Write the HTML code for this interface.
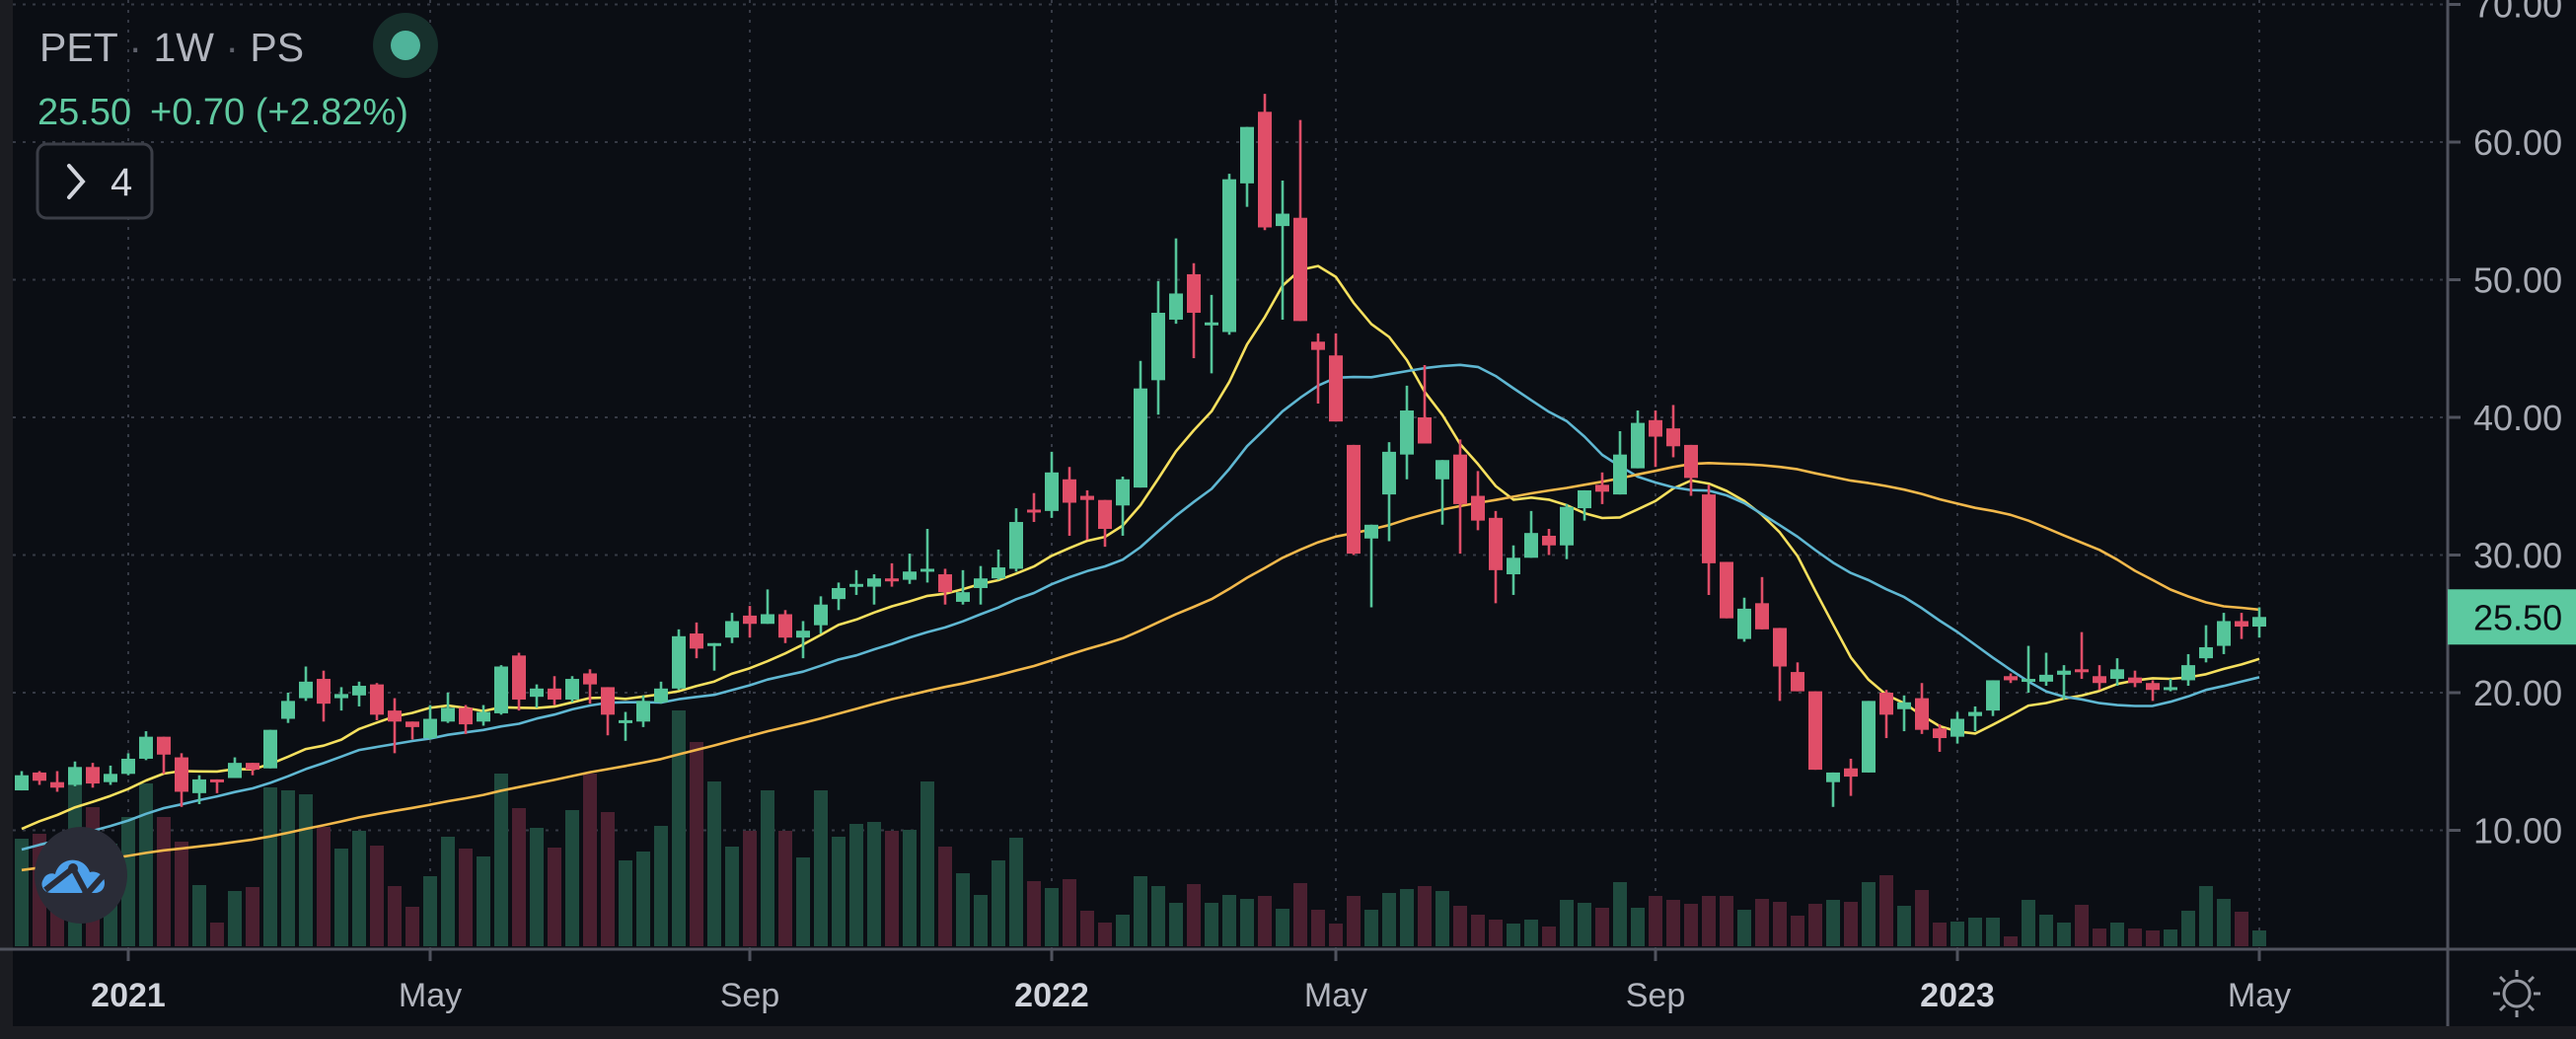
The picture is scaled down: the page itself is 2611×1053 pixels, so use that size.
<!DOCTYPE html>
<html><head><meta charset="utf-8"><style>
html,body{margin:0;padding:0;background:#0b0e14;}
svg{display:block;font-family:"Liberation Sans","DejaVu Sans",sans-serif;}
</style></head><body>
<svg id="chart" width="2611" height="1053" viewBox="0 0 2611 1053" xmlns="http://www.w3.org/2000/svg">
<rect x="0" y="0" width="2611" height="1053" fill="#0b0e14"/>
<rect x="0" y="0" width="13" height="1053" fill="#1b1c21"/>
<rect x="0" y="1040" width="2611" height="13" fill="#1b1c21"/>
<g id="grid"></g>
<g id="volume"></g>
<g id="ma"></g>
<g id="candles"></g>
<g id="axes"></g>

<g>
<text x="40" y="62" font-size="41" fill="#b2b5be">PET<tspan fill="#5d606b"> · </tspan>1W<tspan fill="#5d606b"> · </tspan>PS</text>
<circle cx="411" cy="46" r="33" fill="#17302c"/>
<circle cx="411" cy="46" r="15" fill="#4fb39a"/>
<text x="38" y="126" font-size="38" fill="#5fc9a0">25.50</text>
<text x="152" y="126" font-size="38" fill="#5fc9a0">+0.70 (+2.82%)</text>
<rect x="38" y="146" width="116" height="75" rx="9" fill="#0b0e14" stroke="#3b3e47" stroke-width="3"/>
<path d="M70 168 L84 184 L70 200" fill="none" stroke="#d1d4dc" stroke-width="4" stroke-linecap="round"/>
<text x="112" y="198" font-size="40" fill="#d1d4dc">4</text>
</g>

<g>
<ellipse cx="82" cy="887" rx="47" ry="49" fill="#2a2c37"/>
<path d="M52 905 C44 905 40 897 44 891 C46 886 52 884 56 886 C58 876 68 870 77 872 C84 873 89 878 91 884 C98 882 106 887 106 895 C106 901 102 905 96 905 Z" fill="#4da0ea"/>
<path d="M46 902 L74 880 L88 906 L104 888" fill="none" stroke="#2a2c37" stroke-width="6" stroke-linejoin="round"/>
<circle cx="74" cy="880" r="5" fill="#2a2c37"/><circle cx="88" cy="906" r="5" fill="#2a2c37"/>
</g>

<g transform="translate(2551,1007)" stroke="#9598a1" stroke-width="3" fill="none">
<circle r="13"/>
<line x1="0" y1="-17" x2="0" y2="-24"/><line x1="0" y1="17" x2="0" y2="24"/>
<line x1="-17" y1="0" x2="-24" y2="0"/><line x1="17" y1="0" x2="24" y2="0"/>
<line x1="12" y1="12" x2="17" y2="17"/><line x1="-12" y1="-12" x2="-17" y2="-17"/>
<line x1="12" y1="-12" x2="17" y2="-17"/><line x1="-12" y1="12" x2="-17" y2="17"/>
</g>
</svg>
<script>
// ---- data ----
const opens  = [12.9,14.2,13.5,13.3,14.6,13.5,14.1,15.2,16.8,15.3,12.7,13.7,13.8,14.9,14.5,18.1,19.6,21.0,19.6,19.8,20.6,18.7,17.9,16.7,17.9,18.9,17.9,18.5,22.7,19.7,20.3,19.5,21.4,20.4,17.9,17.9,19.3,20.3,24.3,23.4,24.0,25.6,25.0,25.7,24.0,24.9,26.8,27.7,27.7,28.3,28.2,28.9,28.6,26.6,27.6,28.3,29.0,33.3,33.2,35.5,34.3,34.0,33.6,34.9,42.7,47.1,50.4,46.8,46.2,57.0,62.2,53.9,54.5,45.5,44.5,38.0,31.2,34.4,37.3,40.0,35.5,37.3,34.3,32.7,28.6,29.8,31.4,30.7,33.4,35.1,34.4,36.3,39.8,39.2,38.0,34.4,29.5,23.9,26.5,24.7,21.5,20.1,13.5,14.5,14.2,20.0,18.8,19.6,17.4,16.8,18.3,18.7,21.2,20.8,20.8,21.3,21.7,21.2,21.0,21.1,20.7,20.3,20.9,22.5,23.4,25.2,24.8];
const highs  = [14.3,14.3,14.3,15.0,14.9,14.7,15.6,17.2,16.8,15.6,14.0,13.7,15.3,14.9,17.3,20.0,21.9,21.6,20.4,20.8,20.7,19.6,17.9,19.1,20.0,19.1,19.1,22.0,22.9,20.6,21.2,21.2,21.7,20.4,18.6,19.8,20.8,24.6,25.1,23.6,25.8,26.3,27.5,26.0,25.2,27.0,28.0,28.9,28.6,29.4,30.1,31.9,29.0,28.9,29.2,30.4,33.4,34.5,37.5,36.4,34.7,34.0,35.7,44.1,49.9,53.0,51.2,48.9,57.7,61.1,63.5,57.2,61.6,46.1,46.1,38.0,32.2,38.2,42.3,43.8,36.9,38.4,36.1,33.2,30.7,33.2,31.9,33.7,34.7,36.0,39.0,40.5,40.5,40.9,38.0,35.1,29.5,26.9,28.4,24.7,22.2,20.1,14.2,15.2,19.4,20.2,19.8,20.7,17.7,18.6,19.0,20.9,21.4,23.4,22.9,22.0,24.4,22.0,22.5,21.6,20.9,21.0,22.8,24.9,25.8,25.8,26.2];
const lows   = [12.9,13.3,12.8,13.2,13.1,13.3,14.0,15.1,14.1,11.7,11.9,12.7,13.8,14.0,14.5,17.8,19.4,17.9,18.7,19.0,18.0,15.6,16.6,16.6,17.8,17.0,17.6,18.4,18.7,18.9,19.1,19.3,19.2,16.9,16.5,17.5,19.2,20.2,22.5,21.6,23.6,24.0,25.0,23.6,22.5,24.3,26.0,27.1,26.4,27.7,27.9,28.0,26.4,26.4,26.4,28.2,28.8,32.4,32.7,31.4,31.1,30.6,31.4,34.9,40.2,46.8,44.3,43.2,46.0,55.3,53.6,47.1,47.0,41.0,39.7,30.0,26.2,31.0,35.5,38.1,32.2,30.1,31.8,26.5,27.1,29.8,30.0,29.7,32.5,33.7,34.4,36.3,36.4,37.1,34.3,27.1,25.4,23.7,24.6,19.4,20.1,14.4,11.7,12.5,14.2,16.7,17.2,17.0,15.7,16.3,17.2,18.3,20.7,20.0,20.5,19.5,21.0,20.2,20.5,20.4,19.4,20.1,20.5,22.2,22.8,23.9,24.0];
const closes = [14.0,13.6,13.1,14.6,13.4,14.1,15.2,16.8,15.5,12.8,13.7,13.5,14.9,14.4,17.3,19.4,20.8,19.2,19.9,20.5,18.4,17.9,17.5,18.1,18.9,17.7,18.6,21.9,19.5,20.3,19.5,21.0,20.6,18.4,18.0,19.4,20.3,24.1,23.2,23.6,25.2,25.0,25.7,24.0,24.5,26.4,27.6,27.9,28.3,28.1,28.8,29.0,27.3,27.3,28.3,29.1,32.4,33.1,36.0,33.8,34.0,31.9,35.5,42.1,47.6,49.0,47.6,46.9,57.3,61.1,53.8,54.8,47.0,44.9,39.7,30.1,32.2,37.5,40.5,38.1,36.9,33.7,32.5,28.9,29.8,31.6,30.7,33.5,34.7,34.6,37.3,39.6,38.6,37.9,35.6,29.4,25.4,26.1,24.6,21.9,20.1,14.4,14.2,13.9,19.4,18.4,19.3,17.3,16.7,18.1,18.6,20.9,20.9,21.0,21.3,21.6,21.5,20.7,21.7,20.7,20.2,20.4,22.0,23.3,25.2,24.8,25.5];
const volumes = [109,114,87,166,141,104,131,165,131,106,62,24,56,60,161,158,154,121,99,117,102,61,40,71,111,99,91,175,140,120,100,138,175,136,87,96,122,239,207,167,101,117,158,117,90,158,111,124,126,117,118,167,101,74,52,87,110,66,59,68,36,24,32,71,61,44,63,44,52,48,51,38,64,37,23,51,37,54,58,61,56,41,32,27,23,27,20,47,44,39,65,39,51,47,43,51,51,37,48,45,31,43,47,45,65,72,41,57,24,25,29,29,10,47,32,24,42,18,24,18,16,17,36,61,48,35,16];
// estimated weekly closes before the first visible bar (history used by the moving averages)
const priorCloses = [5.2,5.4,5.0,5.6,5.8,5.5,6.0,6.3,5.9,6.1,6.4,6.0,5.7,5.9,6.2,6.5,6.3,6.0,5.8,6.1,6.4,6.6,6.3,6.5,6.8,6.6,6.4,6.7,6.9,6.8,6.7,6.9,7.0,6.8,7.1,7.3,7.0,7.2,7.4,7.6,8.0,8.6,9.0,9.4,9.8,10.2,10.6,10.5,10.9];
const maPeriods = [10,20,50];
const priceTicks = [10,20,30,40,50,60,70];
const timeTickIndex = [6,23,41,58,74,92,109,126];
const timeTickLabels = ["2021","May","Sep","2022","May","Sep","2023","May"];
const lastPrice = 25.50;

// ---- scales ----
const X0 = 22, STEP = 18.0;
const PLOT_R = 2481, VOL_BASE = 959, AXIS_Y = 962;
function xScale(i){ return X0 + i*STEP; }
function yScale(p){ return 702 - (p-20)*13.95; }
function vScale(v){ return v*1.0; }

const NS = "http://www.w3.org/2000/svg";
function mk(tag, attrs, parent){ const e=document.createElementNS(NS,tag); for(const k in attrs) e.setAttribute(k,attrs[k]); parent.appendChild(e); return e; }

const grid = document.getElementById('grid');
priceTicks.forEach(p=>{
  const l = mk('line',{x1:13,x2:PLOT_R,y1:yScale(p),y2:yScale(p),stroke:'#363a45','stroke-width':2,'stroke-dasharray':'3 7'},grid);
  
  
});
timeTickIndex.forEach(i=>{
  const l = mk('line',{x1:xScale(i),x2:xScale(i),y1:0,y2:AXIS_Y,stroke:'#363a45','stroke-width':2,'stroke-dasharray':'3 7'},grid);
  
  
});

const vg = document.getElementById('volume');
volumes.forEach((v,i)=>{
  const up = closes[i] >= opens[i];
  const h = vScale(v);
  const r = mk('rect',{x:xScale(i)-7,y:VOL_BASE-h,width:14,height:h,fill: up?'#1f4a3e':'#4a2030'},vg);
  
  
});

const all = priorCloses.concat(closes);
const off = priorCloses.length;
const maColors = ['#f6e05e','#5fb7d2','#f2b84b'];
const mg = document.getElementById('ma');
maPeriods.forEach((per,k)=>{
  let pts=[];
  for(let i=0;i<closes.length;i++){
    const j=i+off; let s=0,n=0;
    for(let q=Math.max(0,j-per+1);q<=j;q++){ s+=all[q]; n++; }
    pts.push(xScale(i).toFixed(1)+','+yScale(s/n).toFixed(1));
  }
  const pl = mk('polyline',{points:pts.join(' '),fill:'none',stroke:maColors[k],'stroke-width':2.6,'stroke-linejoin':'round'},mg);
  
  
});

const cg = document.getElementById('candles');
closes.forEach((c,i)=>{
  const o=opens[i], up=c>=o, col=up?'#55c59a':'#e04e68';
  const x=xScale(i);
  const w = mk('line',{x1:x,x2:x,y1:yScale(highs[i]),y2:yScale(lows[i]),stroke:col,'stroke-width':2.6},cg);
  
  
  const top=yScale(Math.max(o,c)), bot=yScale(Math.min(o,c));
  const b = mk('rect',{x:x-7,y:top,width:14,height:Math.max(3,bot-top),fill:col},cg);
  
  
});

const ax = document.getElementById('axes');
const a1 = mk('line',{x1:PLOT_R,x2:PLOT_R,y1:0,y2:1040,stroke:'#50535e','stroke-width':3},ax);


const a2 = mk('line',{x1:0,x2:2611,y1:AXIS_Y,y2:AXIS_Y,stroke:'#50535e','stroke-width':3},ax);


priceTicks.forEach(p=>{
  const t = mk('line',{x1:PLOT_R,x2:PLOT_R+13,y1:yScale(p),y2:yScale(p),stroke:'#50535e','stroke-width':3},ax);
  
  
  const tx = mk('text',{x:2507,y:yScale(p)+13,'font-size':36,fill:'#a9acb5'},ax);
  
  
  tx.textContent=p.toFixed(2);
});
timeTickIndex.forEach((i,k)=>{
  const t = mk('line',{x1:xScale(i),x2:xScale(i),y1:AXIS_Y,y2:AXIS_Y+12,stroke:'#50535e','stroke-width':3},ax);
  
  
  const isYear = /^\d+$/.test(timeTickLabels[k]);
  const tx = mk('text',{x:xScale(i),y:1020,'font-size':34,'text-anchor':'middle',fill:isYear?'#d1d4dc':'#b2b5be','font-weight':isYear?'bold':'normal'},ax);
  
  
  tx.textContent=timeTickLabels[k];
});
const ty=yScale(lastPrice);
const tag = mk('rect',{x:PLOT_R,y:ty-28,width:130,height:56,fill:'#5cc9a0'},ax);


const tagt = mk('text',{x:2507,y:ty+13,'font-size':36,fill:'#0b0e14'},ax);


tagt.textContent=lastPrice.toFixed(2);
</script>
</body></html>
